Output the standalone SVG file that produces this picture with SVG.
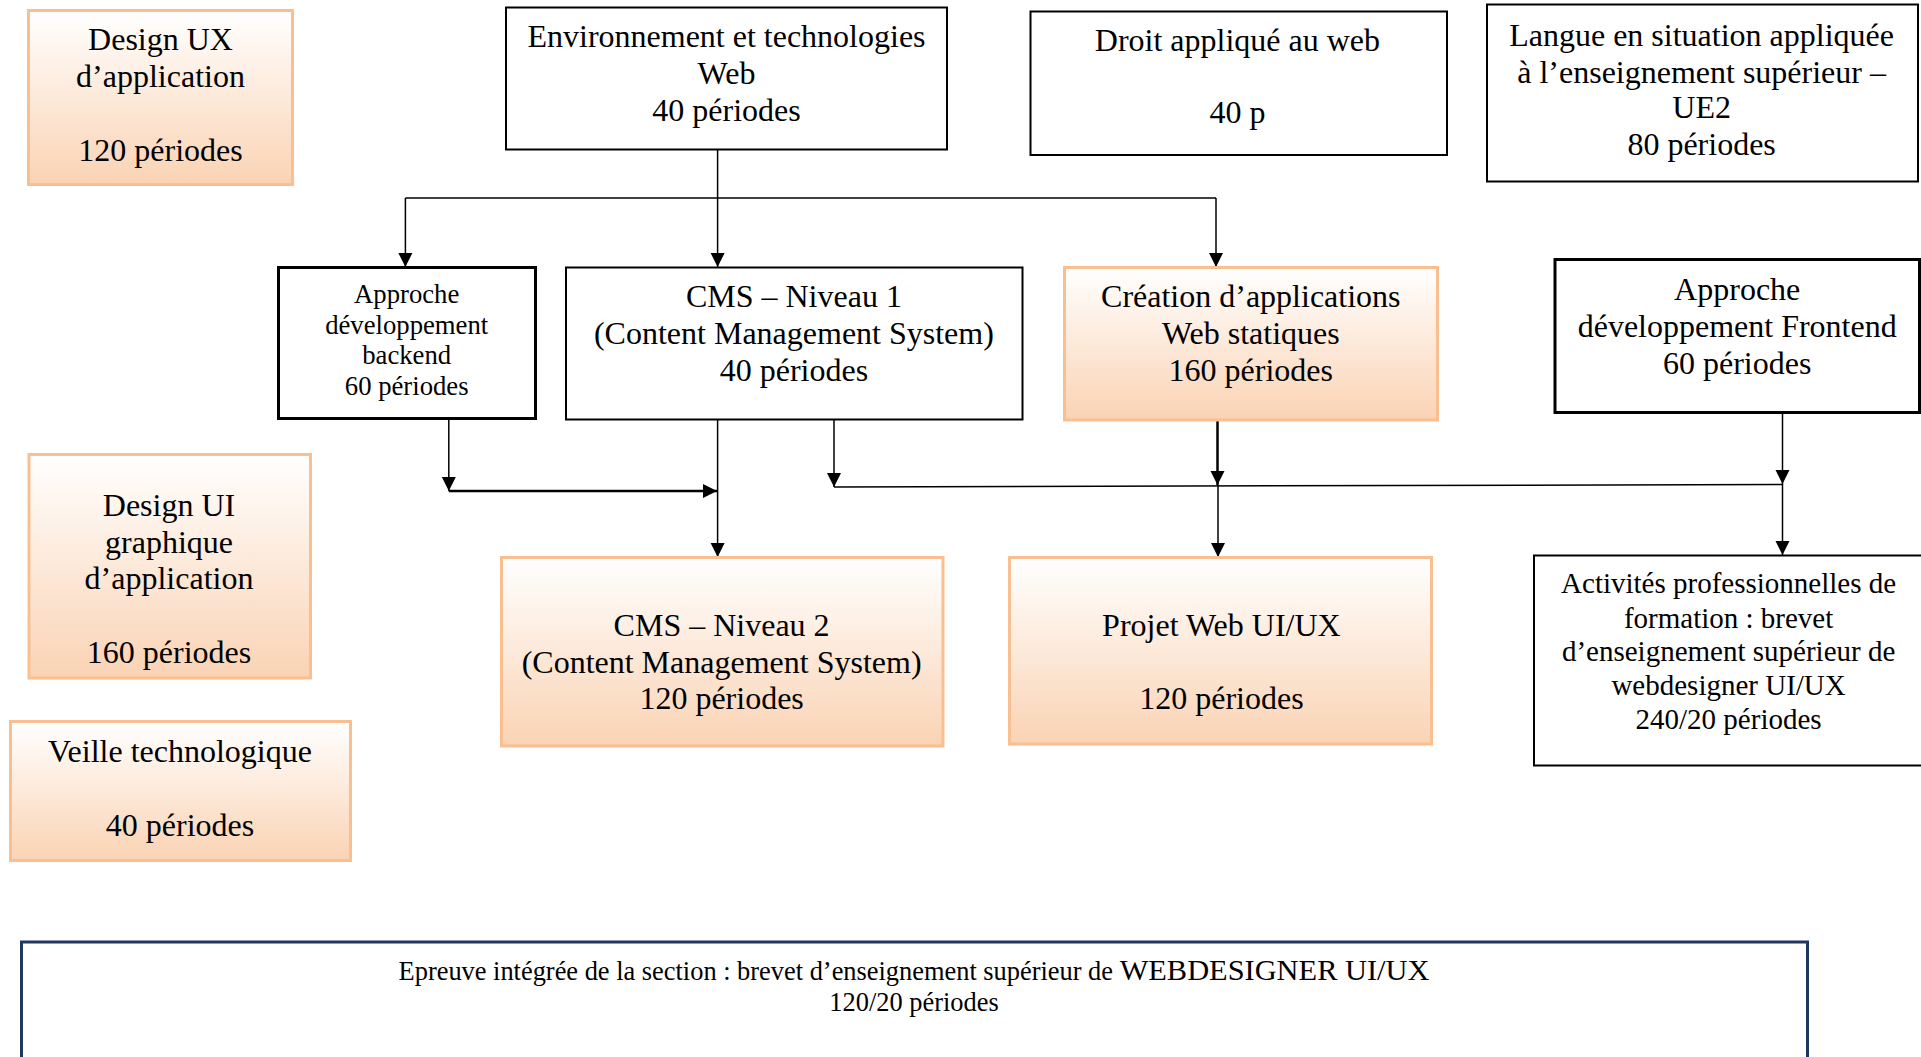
<svg xmlns="http://www.w3.org/2000/svg" width="1921" height="1057" viewBox="0 0 1921 1057">
<defs>
<linearGradient id="peach" x1="0" y1="0" x2="0" y2="1">
<stop offset="0" stop-color="#FFFFFF"/>
<stop offset="1" stop-color="#FAD3B4"/>
</linearGradient>
<marker id="arr" markerWidth="14" markerHeight="16" refX="14" refY="7" orient="auto" markerUnits="userSpaceOnUse" viewBox="0 0 14 14">
<path d="M0,0 L14,7 L0,14 Z" fill="#000"/>
</marker>
</defs>
<style>
text{font-family:"Liberation Serif","Times New Roman",serif;fill:#000;text-anchor:middle}
.t32{font-size:32px}
.t29{font-size:29px}
.t27{font-size:26.7px}
.t26{font-size:26.4px}
.t30{font-size:30.4px}
.orange{fill:url(#peach);stroke:#F9BF90;stroke-width:3}
.plain{fill:#fff;stroke:#000;stroke-width:2}
.thick{fill:#fff;stroke:#000;stroke-width:3}
.ln{fill:none;stroke:#000;stroke-width:1.5}
.ln2{fill:none;stroke:#000;stroke-width:2.5}
</style>
<rect width="1921" height="1057" fill="#fff"/>

<g id="connectors">
<path class="ln" d="M717.6,149 V198 M405.4,198 H1216"/>
<path class="ln" d="M405.4,198 V267" marker-end="url(#arr)"/>
<path class="ln" d="M717.6,198 V267" marker-end="url(#arr)"/>
<path class="ln" d="M1216,198 V267" marker-end="url(#arr)"/>
<path class="ln" d="M448.8,419 V491" marker-end="url(#arr)"/>
<path class="ln2" d="M448.8,491 H717" marker-end="url(#arr)"/>
<path class="ln" d="M717.6,420 V557" marker-end="url(#arr)"/>
<path class="ln" d="M834,420 V487" marker-end="url(#arr)"/>
<path class="ln" d="M834,487 L1782.5,484.5"/>
<path class="ln2" d="M1217.5,420 V485" marker-end="url(#arr)"/>
<path class="ln" d="M1782.5,412 V484" marker-end="url(#arr)"/>
<path class="ln" d="M1218,485 V557" marker-end="url(#arr)"/>
<path class="ln" d="M1782.5,484 V555" marker-end="url(#arr)"/>
</g>

<g id="design-ux">
<rect class="orange" x="28.5" y="10.5" width="264" height="174"/>
<text class="t32" x="160.5" y="50">Design UX</text>
<text class="t32" x="160.5" y="87">d’application</text>
<text class="t32" x="160.5" y="160.5">120 périodes</text>
</g>

<g id="env-web">
<rect class="plain" x="506" y="7.5" width="441" height="142"/>
<text class="t32" x="726.5" y="47">Environnement et technologies</text>
<text class="t32" x="726.5" y="84">Web</text>
<text class="t32" x="726.5" y="121">40 périodes</text>
</g>

<g id="droit">
<rect class="plain" x="1030.5" y="11.5" width="416.5" height="143.5"/>
<text class="t32" x="1237.4" y="51">Droit appliqué au web</text>
<text class="t32" x="1237.4" y="123">40 p</text>
</g>

<g id="langue">
<rect class="plain" x="1487" y="4.5" width="431" height="177"/>
<text class="t32" x="1701.6" y="46">Langue en situation appliquée</text>
<text class="t32" x="1701.6" y="83">à l’enseignement supérieur –</text>
<text class="t32" x="1701.6" y="118">UE2</text>
<text class="t32" x="1701.6" y="155">80 périodes</text>
</g>

<g id="backend">
<rect class="thick" x="278.5" y="267.5" width="257" height="151"/>
<text class="t27" x="406.7" y="303">Approche</text>
<text class="t27" x="406.7" y="333.5">développement</text>
<text class="t27" x="406.7" y="364">backend</text>
<text class="t27" x="406.7" y="395">60 périodes</text>
</g>

<g id="cms1">
<rect class="plain" x="566" y="267.5" width="456.5" height="152"/>
<text class="t32" x="793.9" y="307">CMS – Niveau 1</text>
<text class="t32" x="793.9" y="344">(Content Management System)</text>
<text class="t32" x="793.9" y="381">40 périodes</text>
</g>

<g id="creation">
<rect class="orange" x="1064.5" y="267.5" width="373" height="152.5"/>
<text class="t32" x="1250.8" y="307">Création d’applications</text>
<text class="t32" x="1250.8" y="344">Web statiques</text>
<text class="t32" x="1250.8" y="381">160 périodes</text>
</g>

<g id="frontend">
<rect class="thick" x="1555" y="259.5" width="364.5" height="153"/>
<text class="t32" x="1737.2" y="300">Approche</text>
<text class="t32" x="1737.2" y="337">développement Frontend</text>
<text class="t32" x="1737.2" y="373.5">60 périodes</text>
</g>

<g id="design-ui">
<rect class="orange" x="29" y="454.5" width="281.5" height="223.5"/>
<text class="t32" x="169" y="515.5">Design UI</text>
<text class="t32" x="169" y="552.5">graphique</text>
<text class="t32" x="169" y="589">d’application</text>
<text class="t32" x="169" y="662.5">160 périodes</text>
</g>

<g id="cms2">
<rect class="orange" x="501.5" y="557.5" width="441.5" height="188.5"/>
<text class="t32" x="721.6" y="635.5">CMS – Niveau 2</text>
<text class="t32" x="721.6" y="672.5">(Content Management System)</text>
<text class="t32" x="721.6" y="709">120 périodes</text>
</g>

<g id="projet">
<rect class="orange" x="1009.5" y="557.5" width="422" height="186.5"/>
<text class="t32" x="1221.4" y="635.5">Projet Web UI/UX</text>
<text class="t32" x="1221.4" y="709">120 périodes</text>
</g>

<g id="veille">
<rect class="orange" x="10.5" y="721.5" width="340" height="139"/>
<text class="t32" x="180" y="762">Veille technologique</text>
<text class="t32" x="180" y="835.5">40 périodes</text>
</g>

<g id="activites">
<rect class="plain" x="1534" y="555.5" width="390" height="210"/>
<text class="t29" x="1728.6" y="593">Activités professionnelles de</text>
<text class="t29" x="1728.6" y="627.5">formation : brevet</text>
<text class="t29" x="1728.6" y="660.5">d’enseignement supérieur de</text>
<text class="t29" x="1728.6" y="695">webdesigner UI/UX</text>
<text class="t29" x="1728.6" y="729">240/20 périodes</text>
</g>

<g id="epreuve">
<rect x="21.5" y="942" width="1786" height="130" fill="#fff" stroke="#1F3763" stroke-width="3"/>
<text class="t26" x="914" y="979.5">Epreuve intégrée de la section : brevet d’enseignement supérieur de <tspan class="t30">WEBDESIGNER UI/UX</tspan></text>
<text class="t26" x="914" y="1011">120/20 périodes</text>
</g>
</svg>
